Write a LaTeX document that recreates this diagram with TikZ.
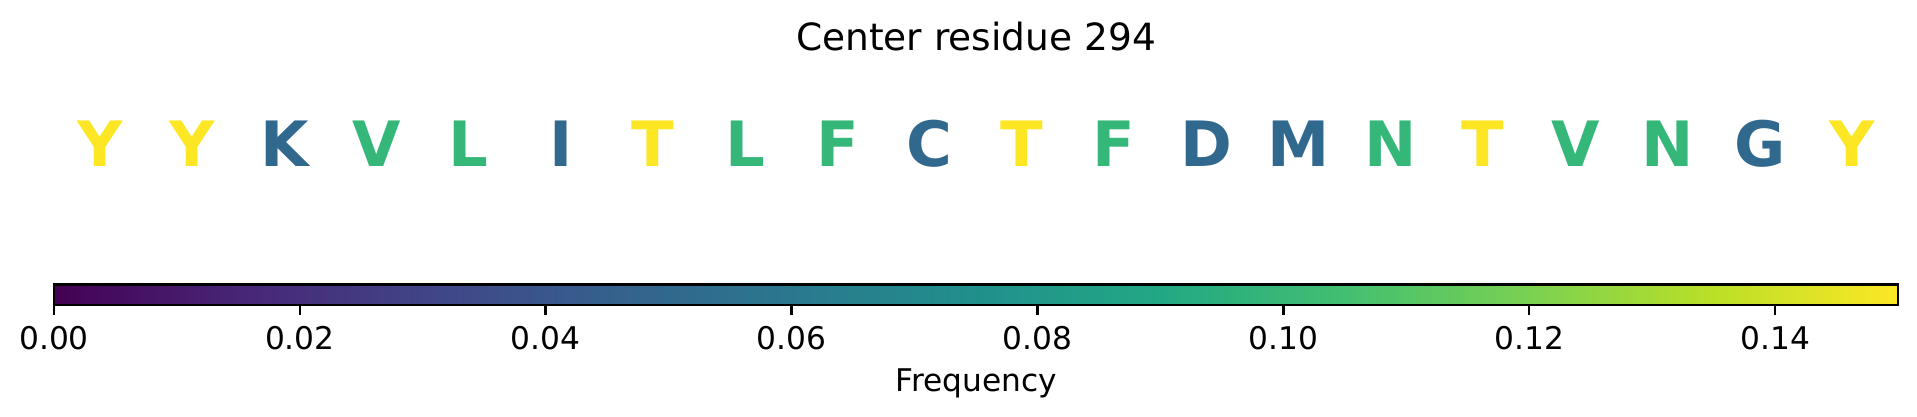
\documentclass[tikz,border=0pt]{standalone}
\usepackage{fontspec}
\setmainfont{DejaVu Sans}
\usepackage{xcolor}
\usepackage{tikz}
\usetikzlibrary{positioning}
\definecolor{vir0}{HTML}{440154}
\definecolor{vir1}{HTML}{482576}
\definecolor{vir2}{HTML}{414487}
\definecolor{vir3}{HTML}{35608D}
\definecolor{vir4}{HTML}{2A788E}
\definecolor{vir5}{HTML}{21908C}
\definecolor{vir6}{HTML}{22A884}
\definecolor{vir7}{HTML}{43BF71}
\definecolor{vir8}{HTML}{7AD151}
\definecolor{vir9}{HTML}{BBDF27}
\definecolor{vir10}{HTML}{FDE725}
\definecolor{resblue}{HTML}{31688E}
\definecolor{resgreen}{HTML}{35B779}
\definecolor{resyellow}{HTML}{FDE725}
\pgfdeclarehorizontalshading{viridis}{100bp}{color(0bp)=(vir0); color(25bp)=(vir0); color(30bp)=(vir1); color(35bp)=(vir2); color(40bp)=(vir3); color(45bp)=(vir4); color(50bp)=(vir5); color(55bp)=(vir6); color(60bp)=(vir7); color(65bp)=(vir8); color(70bp)=(vir9); color(75bp)=(vir10); color(100bp)=(vir10)}
\tikzset{
	residue/.style = {
			anchor    = base,
			inner sep = 0pt,
			font      = \fontsize{20}{24}\selectfont\bfseries
		},
	ticklabel/.style = {
			anchor    = base,
			inner sep = 0pt,
			font      = \fontsize{10}{12}\selectfont
		},
	cbframe/.style = {
			draw,
			line width = 0.8pt
		}
}

\begin{document}
\begin{tikzpicture}[x=0.32pt,y=-0.32pt]
    \useasboundingbox (0,0) rectangle (1917,416);

    \node[anchor=base, inner sep=0pt, font=\fontsize{12}{14}\selectfont] at (976,50) (title) {Center residue 294};

    \foreach \aa/\col [count=\i from 0] in {Y/resyellow,Y/resyellow,K/resblue,V/resgreen,L/resgreen,I/resblue,T/resyellow,L/resgreen,F/resgreen,C/resblue,T/resyellow,F/resgreen,D/resblue,M/resblue,N/resgreen,T/resyellow,V/resgreen,N/resgreen,G/resblue,Y/resyellow}
      \node[residue, text=\col] at ({54+92.2*(\i+0.5)},166.7) (res\i) {\aa};

    \coordinate (cbnw) at (54,284.5);
    \coordinate (cbse) at (1898,305);
    \shade[shading=viridis] (cbnw) rectangle (cbse);
    \draw[cbframe] (cbnw) rectangle (cbse);

    \foreach \lab [count=\k from 0] in {0.00,0.02,0.04,0.06,0.08,0.10,0.12,0.14} {
      \coordinate (tick\k) at ({54+245.87*\k},305);
      \draw[line width=0.8pt] (tick\k) -- ++(0,10);
      \node[ticklabel] at ({54+245.87*\k},349.3) (lab\k) {\lab};
    }

    \node[ticklabel] at (976,391.7) (freq) {Frequency};
  \end{tikzpicture}
\end{document}
